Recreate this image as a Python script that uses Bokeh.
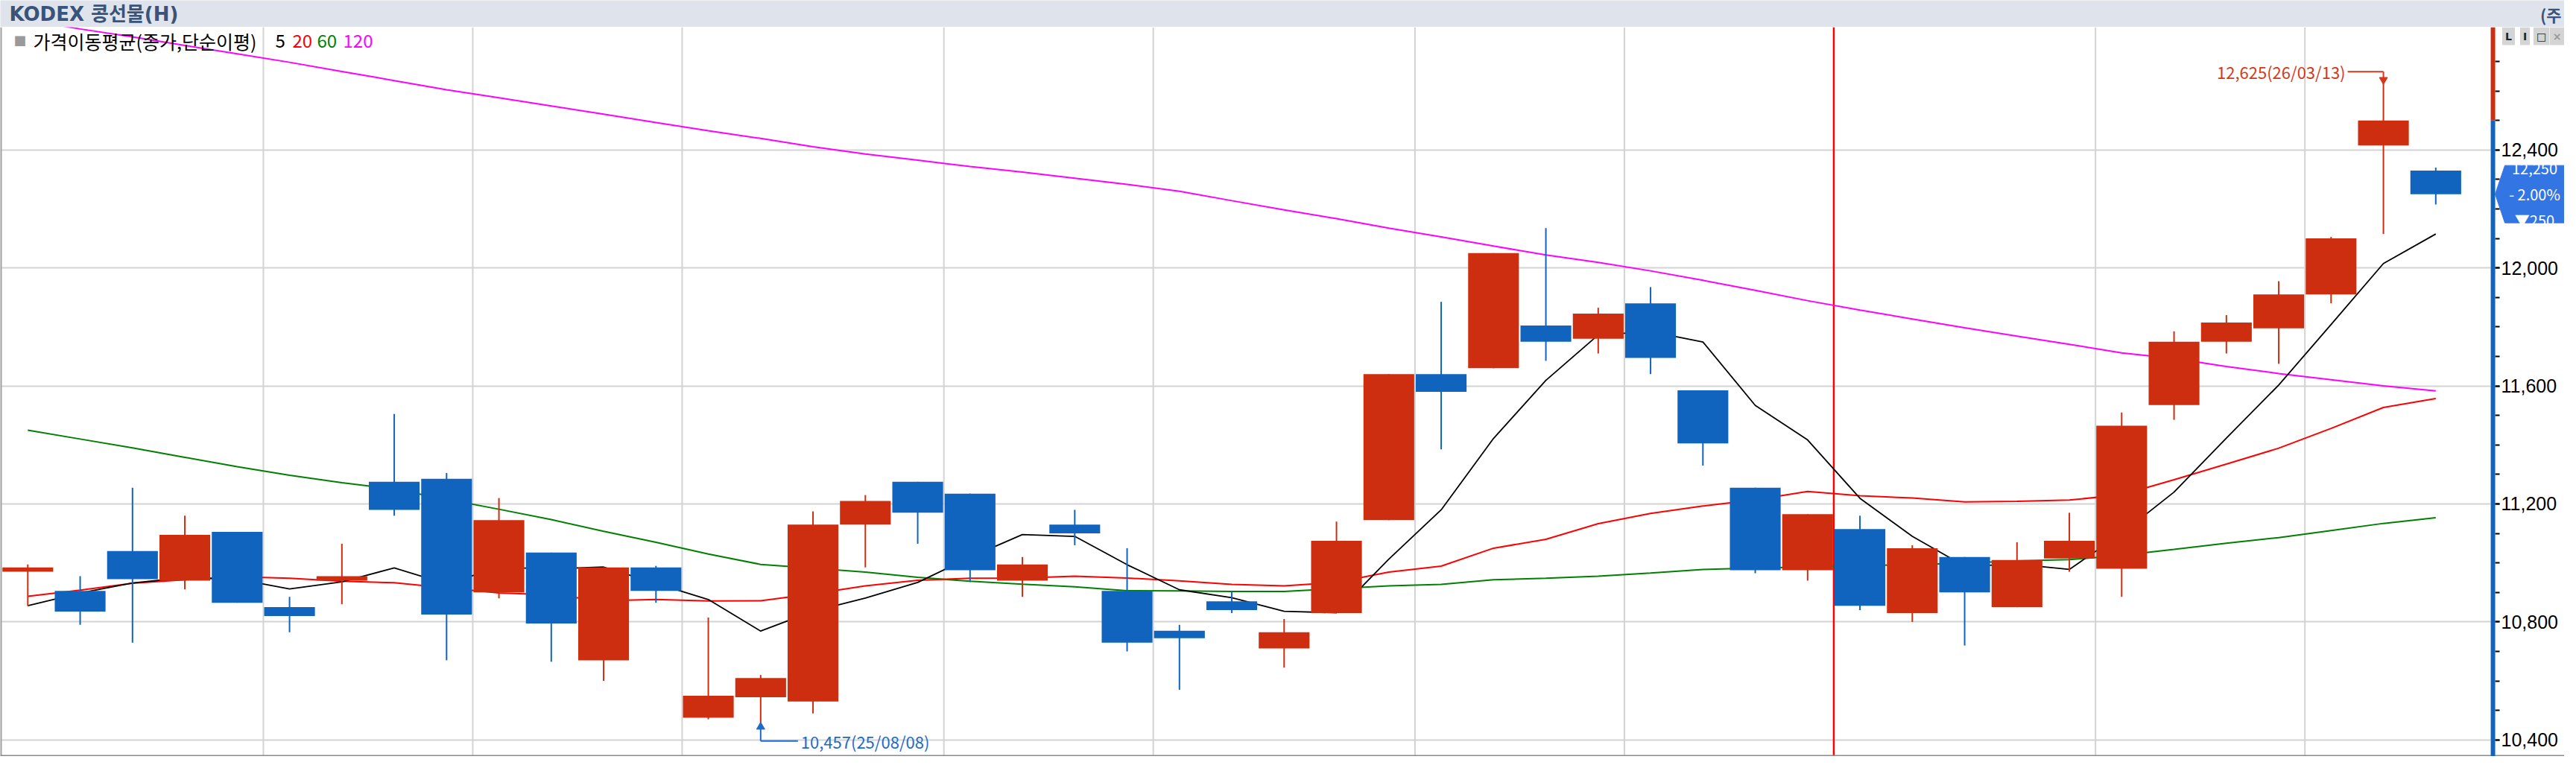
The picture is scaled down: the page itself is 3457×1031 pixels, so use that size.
import numpy as np
import pandas as pd
from bokeh.plotting import figure
from bokeh.models import (Range1d, FixedTicker, NumeralTickFormatter, ColumnDataSource,
                          Span, BoxAnnotation, Label)
from bokeh.layouts import column
from bokeh.embed import file_html
from bokeh.resources import INLINE

# ---------------- data (weekly candles, KODEX 콩선물(H)) ----------------
week_end = ["2025-05-02", "2025-05-09", "2025-05-16", "2025-05-23", "2025-05-30",
            "2025-06-06", "2025-06-13", "2025-06-20", "2025-06-27", "2025-07-04",
            "2025-07-11", "2025-07-18", "2025-07-25", "2025-08-01", "2025-08-08",
            "2025-08-15", "2025-08-22", "2025-08-29", "2025-09-05", "2025-09-12",
            "2025-09-19", "2025-09-26", "2025-10-03", "2025-10-10", "2025-10-17",
            "2025-10-24", "2025-10-31", "2025-11-07", "2025-11-14", "2025-11-21",
            "2025-11-28", "2025-12-05", "2025-12-12", "2025-12-19", "2025-12-26",
            "2026-01-02", "2026-01-09", "2026-01-16", "2026-01-23", "2026-01-30",
            "2026-02-06", "2026-02-13", "2026-02-20", "2026-02-27", "2026-03-06",
            "2026-03-13", "2026-03-20"]

opens = [10970, 10905, 11040, 10940, 11105, 10850, 10940, 11275, 11285, 10900,
         11035, 10670, 10985, 10475, 10545, 10530, 11130, 11275, 11235, 10940,
         11130, 10905, 10770, 10870, 10710, 10830, 11145, 11640, 11660, 11805,
         11760, 11880, 11585, 11255, 10975, 11115, 10830, 11020, 10850, 11015,
         10980, 11535, 11750, 11795, 11910, 12415, 12330]
highs = [10995, 10955, 11255, 11160, 11105, 10885, 11065, 11505, 11305, 11220,
         11035, 10985, 10990, 10815, 10620, 11175, 11230, 11275, 11235, 11020,
         11180, 11050, 10790, 10905, 10810, 11140, 11640, 11885, 12050, 12135,
         11865, 11935, 11585, 11255, 11165, 11160, 11060, 11020, 11070, 11170,
         11510, 11785, 11840, 11955, 12105, 12625, 12340]
lows = [10855, 10790, 10730, 10910, 10865, 10765, 10860, 11160, 10670, 10880,
        10665, 10600, 10865, 10470, 10457, 10490, 10985, 11065, 10935, 10885,
        11060, 10700, 10570, 10830, 10645, 10830, 11145, 11385, 11660, 11685,
        11710, 11640, 11330, 10965, 10940, 10840, 10800, 10720, 10850, 10970,
        10885, 11485, 11710, 11675, 11880, 12115, 12215]
closes = [10985, 10835, 10945, 11095, 10865, 10820, 10955, 11180, 10825, 11145,
          10795, 10985, 10905, 10550, 10610, 11130, 11210, 11170, 10975, 10995,
          11100, 10730, 10745, 10840, 10765, 11075, 11640, 11580, 12050, 11750,
          11845, 11695, 11405, 10975, 11165, 10855, 11050, 10900, 11010, 11075,
          11465, 11750, 11815, 11910, 12100, 12500, 12250]

ma5 = [10855, 10898, 10932, 10950, 10945, 10912, 10936, 10983, 10929, 10985,
       10980, 10986, 10931, 10876, 10769, 10836, 10881, 10934, 11019, 11096,
       11090, 10994, 10909, 10882, 10836, 10831, 11013, 11180, 11422, 11619,
       11773, 11784, 11749, 11534, 11417, 11219, 11090, 10989, 10996, 10978,
       11100, 11240, 11423, 11603, 11808, 12015, 12115]
ma20 = [10887, 10908, 10931, 10943, 10953, 10948, 10938, 10933, 10915, 10898,
        10892, 10872, 10876, 10871, 10872, 10895, 10922, 10941, 10948, 10949,
        10955, 10949, 10939, 10927, 10922, 10934, 10969, 10989, 11050, 11080,
        11133, 11168, 11193, 11214, 11242, 11228, 11220, 11207, 11209, 11213,
        11231, 11282, 11335, 11389, 11456, 11527, 11557]
ma60 = [11450, 11420, 11390, 11358, 11326, 11297, 11272, 11250, 11216, 11182,
        11147, 11107, 11070, 11030, 10995, 10982, 10969, 10951, 10938, 10928,
        10919, 10906, 10905, 10903, 10903, 10913, 10922, 10927, 10943, 10948,
        10955, 10966, 10978, 10983, 10986, 10991, 10994, 10999, 11007, 11011,
        11026, 11046, 11067, 11086, 11110, 11134, 11153]
ma120 = [12840, 12810, 12783, 12754, 12726, 12697, 12666, 12635, 12604, 12577,
         12549, 12521, 12493, 12465, 12439, 12411, 12386, 12365, 12344, 12325,
         12304, 12283, 12260, 12228, 12197, 12167, 12135, 12105, 12074, 12044,
         12019, 11990, 11958, 11924, 11889, 11857, 11827, 11797, 11769, 11741,
         11712, 11693, 11666, 11642, 11621, 11600, 11583]

ma_periods = [5, 20, 60, 120]
ma_colors = ["#000000", "#FF0000", "#008000", "#FF00FF"]
y_ticks = [10400, 10800, 11200, 11600, 12000, 12400]
y_minor = [10400, 10500, 10600, 10700, 10800, 10900, 11000, 11100, 11200, 11300,
           11400, 11500, 11600, 11700, 11800, 11900, 12000, 12100, 12200, 12300,
           12400, 12500, 12600, 12700]

# ---------------- layout constants ----------------
PAGE_W = 3441
HEAD_H = 36
MAIN_H = 979
PXU = 70.25                      # pixels per weekly slot
UP = "#CD2E10"
DOWN = "#1164BE"
GRID = "#D3D3D3"
FONT = "Noto Sans CJK KR"
TITLE_FONT = "DejaVu Sans, Noto Sans CJK KR"
TITLE_COL = "#3A5379"
BOX_COL = "#3475E4"

n = len(closes)
idx = np.arange(n)
dates = pd.to_datetime(week_end)
o = np.array(opens); c = np.array(closes)
X0 = -0.524
X1 = X0 + PAGE_W / PXU
XB_L, XB_R = n + 0.05, n + 0.135     # coloured price-axis bar
Y0, Y1 = 10344, 12816
xpp = (X1 - X0) / PAGE_W
upp = (Y1 - Y0) / MAIN_H

# ---------------- header ----------------
head = figure(width=PAGE_W, height=HEAD_H, x_range=Range1d(0, PAGE_W), y_range=Range1d(0, HEAD_H),
              output_backend="svg", toolbar_location=None, x_axis_location=None,
              y_axis_location=None, min_border=0, background_fill_color="#DFE3EC",
              border_fill_color="#DFE3EC", outline_line_color=None)
head.grid.visible = False
head.add_layout(Label(x=12, y=18, x_units="screen", y_units="screen", text="KODEX 콩선물(H)",
                      text_font=TITLE_FONT, text_font_size="26px", text_font_style="bold",
                      text_color=TITLE_COL, text_baseline="middle", text_align="left"))
head.add_layout(Label(x=3437, y=18, x_units="screen", y_units="screen", text="(주",
                      text_font=FONT, text_font_size="22px", text_font_style="bold",
                      text_color=TITLE_COL, text_baseline="middle", text_align="right"))

# ---------------- main chart ----------------
p = figure(width=PAGE_W, height=MAIN_H, x_range=Range1d(X0, X1), y_range=Range1d(Y0, Y1),
           output_backend="svg", toolbar_location=None, x_axis_location=None,
           y_axis_location="right", min_border=0, background_fill_color="white",
           border_fill_color="white", outline_line_color=None)

ax = p.yaxis[0]
ax.fixed_location = XB_R
ax.ticker = FixedTicker(ticks=y_ticks, minor_ticks=y_minor)
ax.formatter = NumeralTickFormatter(format="0,0")
ax.axis_line_color = None
ax.major_tick_line_color = "black"
ax.major_tick_line_width = 2
ax.major_tick_in = 0
ax.major_tick_out = 6
ax.minor_tick_line_color = "black"
ax.minor_tick_line_width = 2
ax.minor_tick_in = 0
ax.minor_tick_out = 6
ax.major_label_standoff = 2
ax.major_label_text_font = "Liberation Sans"
ax.major_label_text_font_size = "25px"
ax.major_label_text_color = "black"

p.ygrid.grid_line_color = GRID
p.ygrid.grid_line_width = 2
p.xgrid.visible = False

# white price-axis area (hides grid lines right of the chart area)
p.add_layout(BoxAnnotation(left=XB_L, fill_color="white", fill_alpha=1, line_color=None,
                           level="underlay"))

# month / year boundaries from the week dates
for i in range(1, n):
    if dates[i].year != dates[i - 1].year:
        p.add_layout(Span(location=i - 0.5, dimension="height", line_color="#FF0000",
                          line_width=2.5, level="underlay"))
    elif dates[i].month != dates[i - 1].month:
        p.add_layout(Span(location=i - 0.5, dimension="height", line_color=GRID,
                          line_width=2, level="underlay"))

# frame borders
p.add_layout(Span(location=X0, dimension="height", line_color="#A0A0A0", line_width=4))
p.add_layout(Span(location=Y0, dimension="width", line_color="#8A8A8A", line_width=4))

# moving averages (drawn under candles)
for ma, col in zip([ma120, ma60, ma20, ma5], ma_colors[::-1]):
    p.line(idx, ma, line_color=col, line_width=2 if col != "#000000" else 1.8)

# candles
colors = [UP if cc >= oo else DOWN for oo, cc in zip(opens, closes)]
src = ColumnDataSource(dict(x=idx, h=highs, l=lows, top=np.maximum(o, c),
                            bottom=np.minimum(o, c), color=colors))
p.segment(x0="x", y0="h", x1="x", y1="l", line_color="color", line_width=2, source=src)
p.vbar(x="x", width=0.97, top="top", bottom="bottom", fill_color="color",
       line_color=None, source=src)

# legend row
leg_y = 961
p.add_layout(Label(x=18, y=leg_y, x_units="screen", y_units="screen", text="■",
                   text_font=FONT, text_font_size="17px", text_color="#9A9A9A",
                   text_baseline="middle"))
p.add_layout(Label(x=44, y=leg_y, x_units="screen", y_units="screen",
                   text="가격이동평균(종가,단순이평)", text_font=FONT, text_font_size="25px",
                   text_color="black", text_baseline="middle"))
for per, col, lx in zip(ma_periods, ma_colors, [369, 392, 425, 460]):
    p.add_layout(Label(x=lx, y=leg_y, x_units="screen", y_units="screen", text=str(per),
                       text_font=FONT, text_font_size="24px", text_color=col,
                       text_baseline="middle"))

# highest high / lowest low markers
hi_i = int(np.argmax(highs)); hi = highs[hi_i]
lo_i = int(np.argmin(lows)); lo = lows[lo_i]
HI_COL = "#D3391B"
LO_COL = "#1E6BC6"
p.segment(x0=[hi_i - 48 * xpp, hi_i], y0=[hi + 16 * upp, hi + 16 * upp],
          x1=[hi_i, hi_i], y1=[hi + 16 * upp, hi + 8 * upp], line_color=HI_COL, line_width=2)
p.scatter(x=[hi_i], y=[hi + 5 * upp], marker="inverted_triangle", size=11,
          fill_color=HI_COL, line_color=HI_COL)
p.add_layout(Label(x=hi_i, y=hi, x_offset=-51, y_offset=16,
                   text=f"{hi:,}({dates[hi_i]:%y/%m/%d})", text_font=FONT,
                   text_font_size="22px", text_color=HI_COL, text_align="right",
                   text_baseline="middle"))
p.segment(x0=[lo_i, lo_i], y0=[lo - 8 * upp, lo - 24 * upp],
          x1=[lo_i, lo_i + 50 * xpp], y1=[lo - 24 * upp, lo - 24 * upp],
          line_color=LO_COL, line_width=2)
p.scatter(x=[lo_i], y=[lo - 5 * upp], marker="triangle", size=11,
          fill_color=LO_COL, line_color=LO_COL)
p.add_layout(Label(x=lo_i, y=lo, x_offset=54, y_offset=-24,
                   text=f"{lo:,}({dates[lo_i]:%y/%m/%d})", text_font=FONT,
                   text_font_size="22px", text_color=LO_COL, text_align="left",
                   text_baseline="middle"))

# coloured price-axis bar (red above previous close, blue below)
prev_close = closes[-2]
p.add_layout(BoxAnnotation(left=XB_L, right=XB_R, bottom=prev_close, fill_color=UP,
                           fill_alpha=1, line_color=None, level="overlay"))
p.add_layout(BoxAnnotation(left=XB_L, right=XB_R, top=prev_close, fill_color=DOWN,
                           fill_alpha=1, line_color=None, level="overlay"))

# current price box with pointed left side
last = closes[-1]
diff = last - prev_close
pct = diff / prev_close * 100
half = 38.5 * upp
tip = 13 * xpp
p.patch(x=[XB_R, XB_R + tip, X1, X1, XB_R + tip],
        y=[last, last + half, last + half, last - half, last - half],
        fill_color=BOX_COL, line_color=BOX_COL)
sign = "▼" if diff < 0 else "▲"
box_txt = f"{last:,}\n{'-' if diff < 0 else '+'} {abs(pct):.2f}%\n{sign}{abs(diff):,}"
p.add_layout(Label(x=3401, y=last, x_units="screen", y_units="data", text=box_txt,
                   text_font=FONT, text_font_size="20px", text_color="white",
                   text_align="center", text_baseline="middle", text_line_height=1.2))

# small window buttons at top right
for t, bx in zip(["L", "I", "□", "×"], [3366, 3388, 3410, 3431]):
    p.add_layout(Label(x=bx, y=967, x_units="screen", y_units="screen", text=t,
                       text_font="DejaVu Sans", text_font_size="14px", text_font_style="bold",
                       text_color="#222222" if t != "×" else "#999999",
                       text_align="center", text_baseline="middle",
                       background_fill_color="#D4D4D4", padding=4))

layout = column(head, p)
open("out.html", "w").write(file_html(layout, INLINE))
